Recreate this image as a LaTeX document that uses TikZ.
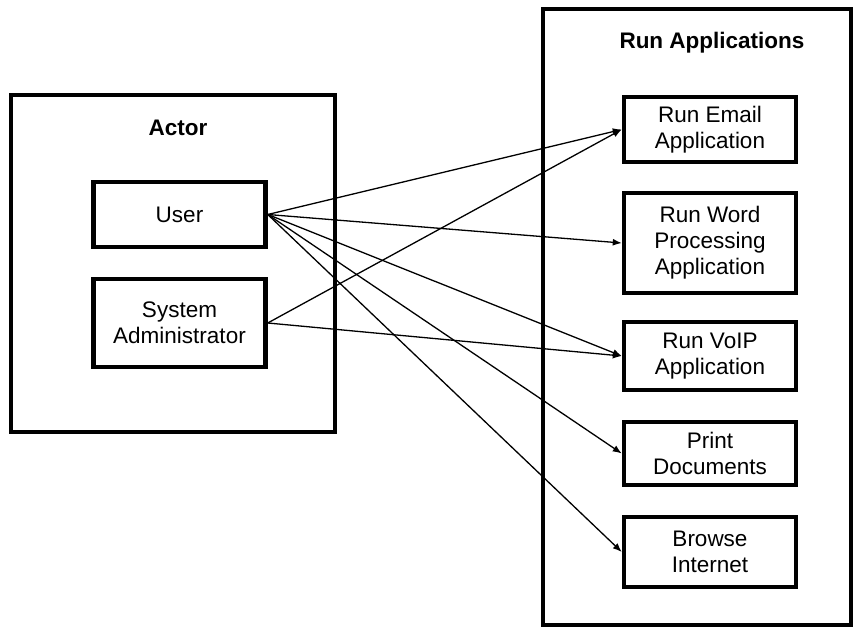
\documentclass[tikz,border=0pt]{standalone}
\usepackage{fontspec}
\setmainfont{Liberation Sans}
\usepackage{xcolor}
\usepackage{tikz}
\usetikzlibrary{arrows.meta, positioning}

\begin{document}
\begin{tikzpicture}[
        x=1pt, y=-1pt,
        frame/.style={rectangle, draw=black, line width=4pt, minimum width=#1},
        task/.style={rectangle, draw=black, line width=4.5pt, align=center, minimum width=172pt, font=\fontsize{22.5}{26}\selectfont},
        heading/.style={font=\fontsize{22.5}{26}\selectfont\bfseries},
        arrow/.style={-{Latex[length=9pt, width=7pt]}, line width=1.3pt}
    ]
        \useasboundingbox (0,0) rectangle (857,628);

        % actor side
        \node[frame=324pt, minimum height=337pt] (actorbox) at (173,263.5) {};
        \node[heading] (actortitle) at (178,128) {Actor};
        \node[task, minimum height=65pt] (user) at (179.5,214.5) {User};
        \node[task, minimum height=88pt] (admin) at (179.5,323) {System\\Administrator};

        % applications side
        \node[frame=308pt, minimum height=616pt] (appbox) at (697,317) {};
        \node[heading] (apptitle) at (712,43) {Run Applications};
        \node[task, minimum height=65pt] (email) at (710,129.5) {Run Email\\Application};
        \node[task, minimum height=100pt] (word) at (710,243) {Run Word\\Processing\\Application};
        \node[task, minimum height=68pt] (voip) at (710,356) {Run VoIP\\Application};
        \node[task, minimum height=63pt] (print) at (710,453.5) {Print\\Documents};
        \node[task, minimum height=70pt] (browse) at (710,552) {Browse\\Internet};

        \draw[arrow] (user.east) -- (email.west);
        \draw[arrow] (user.east) -- (word.west);
        \draw[arrow] (user.east) -- (voip.west);
        \draw[arrow] (user.east) -- (print.west);
        \draw[arrow] (user.east) -- (browse.west);
        \draw[arrow] (admin.east) -- (email.west);
        \draw[arrow] (admin.east) -- (voip.west);
    \end{tikzpicture}
\end{document}
